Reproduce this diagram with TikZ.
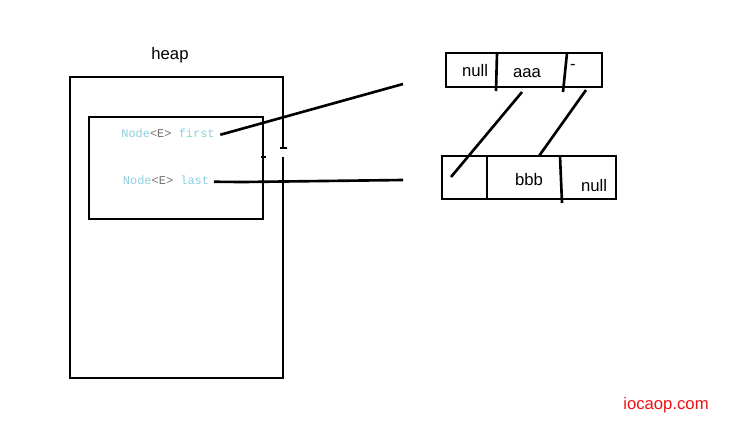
\documentclass[tikz,border=0pt]{standalone}
\usepackage{fontspec}
\setmainfont{Liberation Sans}
\setmonofont{Liberation Mono}
\definecolor{codeblue}{HTML}{8CCFE0}
\definecolor{codegray}{HTML}{707070}
\definecolor{markred}{HTML}{F01010}
\tikzset{
  cell/.style={font=\fontsize{9.5}{11}\selectfont,inner sep=0pt},
  field/.style={font=\ttfamily\fontsize{6.8}{8}\selectfont,text=codeblue,inner sep=0pt}
}
\begin{document}
\begin{tikzpicture}[x=0.02cm,y=-0.02cm,line width=1.5pt]
  \useasboundingbox (0,0) rectangle (742,420);
  % heap
  \node[cell] (heap) at (170,55) {heap};
  \draw (283,148) -- (283,77) -- (70,77) -- (70,378) -- (283,378) -- (283,157);
  \draw[line width=0.8pt] (280,148) -- (287,148);
  \draw (89,117) rectangle (263,219);
  \draw[line width=0.8pt] (261,157) -- (266,157);
  \node[field] (first) at (168,133) {Node\textcolor{codegray}{<E>} first};
  \node[field] (last) at (166,180) {Node\textcolor{codegray}{<E>} last};
  \coordinate (firstend) at (403,84);
  \coordinate (lastend) at (403,180);
  \draw ([xshift=2.5pt,yshift=-1pt]first.east) -- (firstend);
  \draw ([xshift=2pt,yshift=-1pt]last.east) -- (243,182) -- (lastend);
  % first node
  \draw (446,53) rectangle (602,87);
  \draw (497,53) -- (496,91);
  \draw (567,53) -- (563,92);
  \node[cell] (prevA) at (475,71) {null};
  \node[cell] (itemA) at (527,73) {aaa};
  \node[cell] (nextA) at (573,67) {-};
  % last node
  \draw (442,156) rectangle (616,199);
  \draw (487,156) -- (487,199);
  \draw (560,156) -- (562,203);
  \node[cell] (itemB) at (529,180) {bbb};
  \node[cell] (nextB) at (594,186) {null};
  \coordinate (prevB) at (451,177);
  \coordinate (topB) at (539,156);
  \draw (522,92) -- (prevB);
  \draw (586,90) -- (topB);
  \node[font=\fontsize{9.5}{11}\selectfont,text=markred,inner sep=0pt] (mark) at (666,405) {iocaop.com};
\end{tikzpicture}
\end{document}
